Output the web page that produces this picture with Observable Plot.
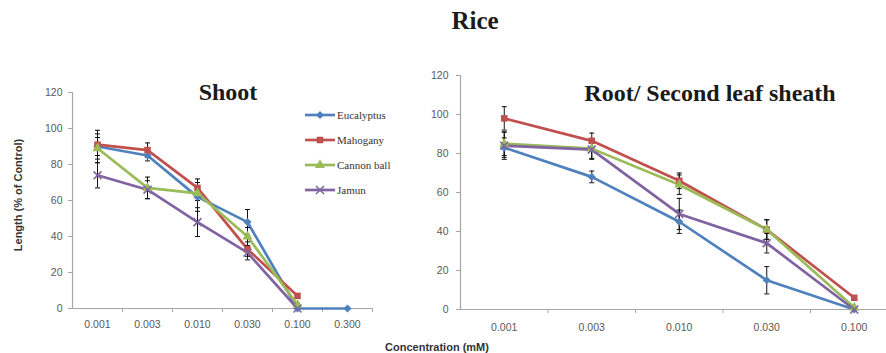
<!DOCTYPE html>
<html>
<head>
<meta charset="utf-8">
<script src="https://cdn.jsdelivr.net/npm/d3@7"></script>
<script src="https://cdn.jsdelivr.net/npm/@observablehq/plot@0.6"></script>
<style>
  html, body { margin: 0; padding: 0; background: #fff; }
  #wrap { position: relative; width: 886px; height: 353px; overflow: hidden; background: #fff; }
  #wrap > svg, #wrap > figure { position: absolute; top: 0; margin: 0; }
</style>
</head>
<body>
<div id="wrap"></div>
<script>
// ---------- data ----------
const shootCategories = ["0.001", "0.003", "0.010", "0.030", "0.100", "0.300"];
const rootCategories  = ["0.001", "0.003", "0.010", "0.030", "0.100"];
const seriesNames  = ["Eucalyptus", "Mahogany", "Cannon ball", "Jamun"];
const seriesColors = ["#4F81BD", "#C0504D", "#9BBB59", "#8064A2"];
const seriesSymbols = ["diamond2", "square", "triangle", "times"];
const yTicks = [0, 20, 40, 60, 80, 100, 120];

// Shoot (% of control)
const shootEucalyptus = [90, 85, 62, 48, 0, 0];
const shootMahogany   = [91, 88, 67, 33, 7];
const shootCannonBall = [89, 67, 64, 40, 2];
const shootJamun      = [74, 66, 48, 31, 0];
const shootEucalyptusErr = [9, 3, 8, 7, 0, 0];
const shootMahoganyErr   = [6, 4, 5, 4, 1];
const shootCannonBallErr = [6, 6, 4, 5, 1];
const shootJamunErr      = [7, 5, 8, 4, 0];

// Root / second leaf sheath (% of control)
const rootEucalyptus = [83, 68, 45, 15, 0];
const rootMahogany   = [98, 86.5, 66, 41, 6];
const rootCannonBall = [85, 82.5, 64, 41, 1];
const rootJamun      = [84, 82, 49, 34, 0];
const rootEucalyptusErr = [5, 3, 6, 7, 0];
const rootMahoganyErr   = [6, 4, 4, 5, 1];
const rootCannonBallErr = [6, 5, 5, 5, 0];
const rootJamunErr      = [7, 5, 8, 5, 0];

// ---------- helpers ----------
function buildRows(valuesList, errList) {
  const rows = [];
  valuesList.forEach((vals, k) => {
    vals.forEach((v, i) => rows.push({series: seriesNames[k], k, i, value: v, err: errList[k][i]}));
  });
  return rows;
}
const capSymbol = { draw(ctx, size) { const w = Math.sqrt(size / Math.PI); ctx.moveTo(-w, 0); ctx.lineTo(w, 0); } };

function panel(cats, rows, opts) {
  const n = cats.length;
  const errRows = rows.filter(d => d.err > 0);
  const filled = rows.filter(d => seriesSymbols[d.k] !== "times");
  const stroked = rows.filter(d => seriesSymbols[d.k] === "times");
  return Plot.plot({
    width: opts.width, height: 353,
    marginLeft: opts.marginLeft, marginRight: opts.marginRight,
    marginTop: opts.marginTop, marginBottom: opts.marginBottom,
    x: {domain: [-0.5, n - 0.5]},
    y: {domain: [0, 120]},
    color: {domain: seriesNames, range: seriesColors},
    symbol: {domain: seriesNames, range: seriesSymbols},
    style: {background: "transparent", color: "#595959", fontFamily: "'Liberation Sans', Arial, sans-serif", fontSize: "10.5px", overflow: "hidden"},
    marks: [
      Plot.ruleY([0], {stroke: "#a6a6a6", strokeWidth: 1.2}),
      Plot.ruleX([-0.5], {stroke: "#a6a6a6", strokeWidth: 1.2}),
      Plot.axisY({ticks: yTicks, tickSize: 4, tickPadding: opts.yPad, stroke: "#a6a6a6", fill: "#595959", label: null}),
      Plot.axisX({ticks: d3.range(n), tickFormat: i => cats[i], tickSize: 0, tickPadding: opts.xPad, fill: "#595959", label: null}),
      Plot.axisX({ticks: d3.range(n).map(i => i + 0.5), tickFormat: () => "", tickSize: 4, stroke: "#a6a6a6", label: null}),
      Plot.line(rows, {x: "i", y: "value", z: "series", stroke: "series", strokeWidth: 2.7, curve: "linear"}),
      Plot.ruleX(errRows, {x: "i", y1: d => d.value - d.err, y2: d => d.value + d.err, stroke: "#111", strokeWidth: 1}),
      Plot.dot(errRows, {x: "i", y: d => d.value + d.err, symbol: capSymbol, r: 2.5, stroke: "#111", strokeWidth: 1}),
      Plot.dot(errRows, {x: "i", y: d => d.value - d.err, symbol: capSymbol, r: 2.5, stroke: "#111", strokeWidth: 1}),
      Plot.dot(filled, {x: "i", y: "value", symbol: "series", fill: "series", r: 3.7}),
      Plot.dot(stroked, {x: "i", y: "value", symbol: "series", stroke: "series", r: 3.7, strokeWidth: 1.6})
    ]
  });
}

const wrap = document.getElementById("wrap");

const shootRows = buildRows(
  [shootEucalyptus, shootMahogany, shootCannonBall, shootJamun],
  [shootEucalyptusErr, shootMahoganyErr, shootCannonBallErr, shootJamunErr]);
const rootRows = buildRows(
  [rootEucalyptus, rootMahogany, rootCannonBall, rootJamun],
  [rootEucalyptusErr, rootMahoganyErr, rootCannonBallErr, rootJamunErr]);

const left = panel(shootCategories, shootRows, {width: 380, marginLeft: 72, marginRight: 8, marginTop: 92, marginBottom: 45, yPad: 6, xPad: 12});
left.style.left = "0px";
wrap.appendChild(left);

const right = panel(rootCategories, rootRows, {width: 520, marginLeft: 82, marginRight: 0.5, marginTop: 75, marginBottom: 44, yPad: 8, xPad: 14});
right.style.left = "378px";
wrap.appendChild(right);

// ---------- overlay texts + legend ----------
const ov = d3.create("svg").attr("width", 886).attr("height", 353)
  .style("position", "absolute").style("left", "0px").style("top", "0px").style("pointer-events", "none");

const serif = "'Liberation Serif', 'Times New Roman', serif";
const sans = "'Liberation Sans', Arial, sans-serif";
ov.append("text").attr("x", 475).attr("y", 29).attr("text-anchor", "middle")
  .style("font-family", serif).style("font-weight", "bold").style("font-size", "25px").attr("fill", "#1a1a1a").text("Rice");
ov.append("text").attr("x", 228).attr("y", 100).attr("text-anchor", "middle")
  .style("font-family", serif).style("font-weight", "bold").style("font-size", "24px").attr("fill", "#1a1a1a").text("Shoot");
ov.append("text").attr("x", 710).attr("y", 101).attr("text-anchor", "middle")
  .style("font-family", serif).style("font-weight", "bold").style("font-size", "24px").attr("fill", "#1a1a1a").text("Root/ Second leaf sheath");
ov.append("text").attr("x", 437).attr("y", 351).attr("text-anchor", "middle")
  .style("font-family", sans).style("font-weight", "bold").style("font-size", "11px").attr("fill", "#333").text("Concentration (mM)");
ov.append("text").attr("transform", "translate(22,195) rotate(-90)").attr("text-anchor", "middle")
  .style("font-family", sans).style("font-weight", "bold").style("font-size", "11px").attr("fill", "#333").text("Length (% of Control)");

const d3Sym = {diamond2: d3.symbolDiamond2, square: d3.symbolSquare, triangle: d3.symbolTriangle, times: d3.symbolTimes};
seriesNames.forEach((name, k) => {
  const y = 115 + 25 * k;
  const g = ov.append("g");
  g.append("line").attr("x1", 305).attr("x2", 335).attr("y1", y).attr("y2", y)
    .attr("stroke", seriesColors[k]).attr("stroke-width", 2.7);
  const p = g.append("path").attr("transform", `translate(320,${y})`)
    .attr("d", d3.symbol(d3Sym[seriesSymbols[k]], Math.PI * 3.7 * 3.7)());
  if (seriesSymbols[k] === "times") p.attr("fill", "none").attr("stroke", seriesColors[k]).attr("stroke-width", 1.6);
  else p.attr("fill", seriesColors[k]);
  g.append("text").attr("x", 337).attr("y", y + 3.5)
    .style("font-family", serif).style("font-size", "11px").attr("fill", "#333").text(name);
});
wrap.appendChild(ov.node());
</script>
</body>
</html>
